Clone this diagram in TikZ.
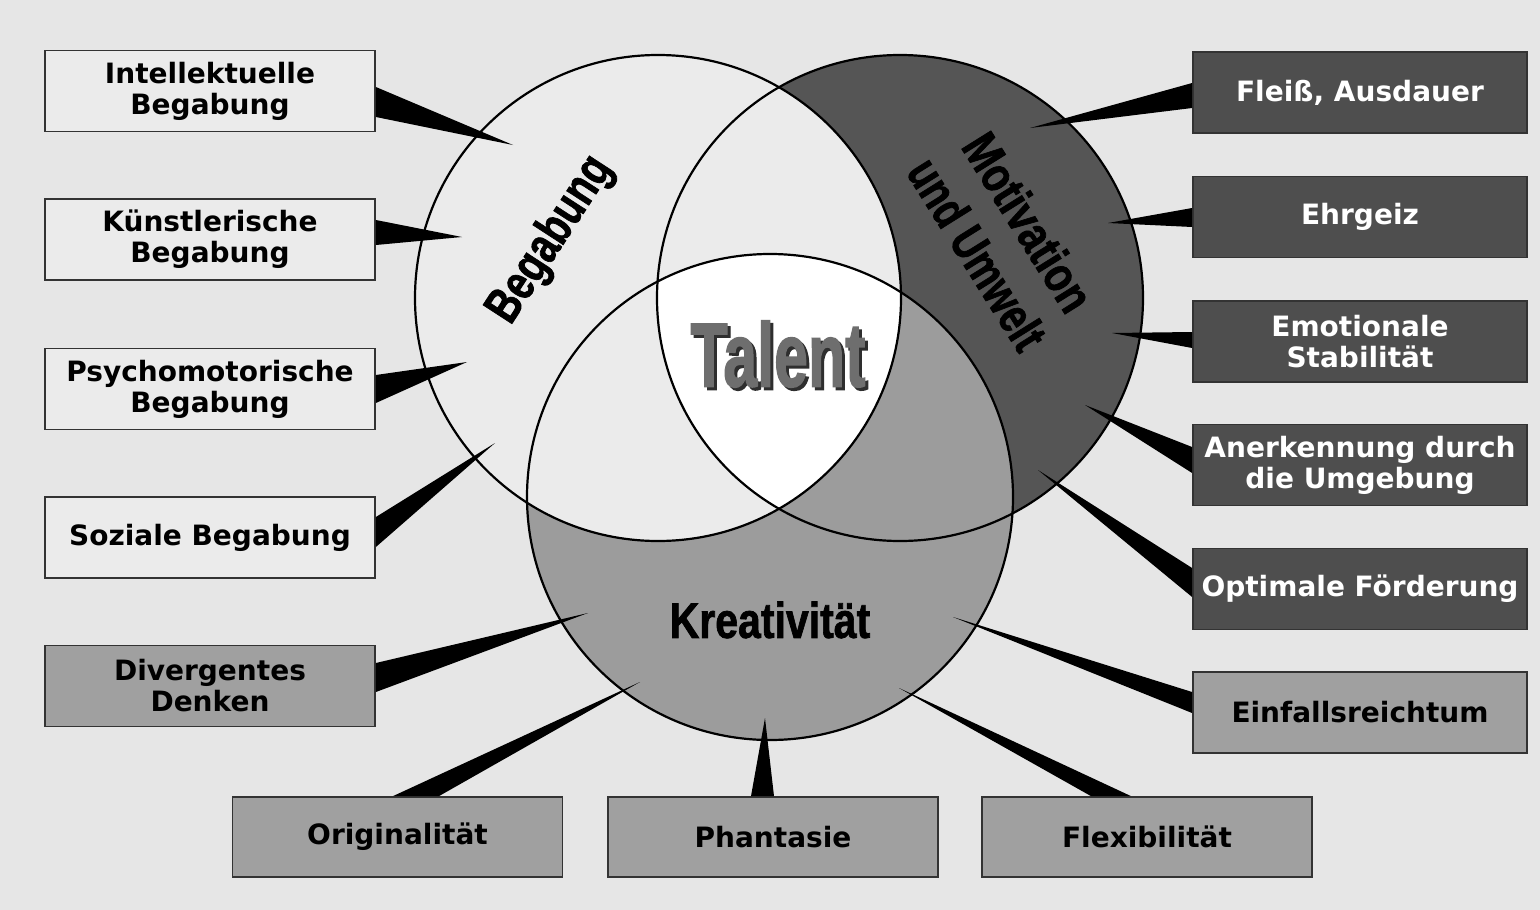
\documentclass[tikz,border=0pt]{standalone}
\usepackage{graphicx}
\usepackage{fontspec}
\setmainfont{DejaVu Sans}
\newfontfamily\condfont{Liberation Sans}[BoldFeatures={FakeBold=1.6}]
\usetikzlibrary{calc}
\definecolor{bgc}{HTML}{E6E6E6}
\definecolor{lightc}{HTML}{EBEBEB}
\definecolor{darkc}{HTML}{555555}
\definecolor{midc}{HTML}{9C9C9C}
\definecolor{boxdark}{HTML}{4E4E4E}
\definecolor{boxmid}{HTML}{A0A0A0}
\definecolor{edgec}{HTML}{333333}
\definecolor{talentc}{HTML}{6E6E6E}
\definecolor{shadowc}{HTML}{2E2E2E}
\newcommand\wedgeH[4]{\fill[wedgefill] ($(#1)+(0,#2-#3)$) -- (#4) -- ($(#1)+(0,#2+#3)$) -- cycle;}
\newcommand\wedgeV[4]{\fill[wedgefill] ($(#1)+(#2-#3,0)$) -- (#4) -- ($(#1)+(#2+#3,0)$) -- cycle;}
\begin{document}
\begin{tikzpicture}[x=1pt,y=-1pt,
  box/.style={rectangle, draw=edgec, line width=1.8pt, minimum width=330pt, minimum height=81pt, inner sep=0pt, align=center, font=\fontsize{28}{31}\selectfont\bfseries},
  lightbox/.style={box, fill=lightc, text=black},
  darkbox/.style={box, fill=boxdark, text=white, minimum width=334pt},
  midbox/.style={box, fill=boxmid, text=black},
  ring/.style={draw=black, line width=2.2pt},
  wedgefill/.style={fill=black},
  biglabel/.style={inner sep=0pt, align=center}]

\fill[bgc] (0,0) rectangle (1540,910);
\useasboundingbox (0,0) rectangle (1540,910);

% circle centres
\coordinate (cL) at (658,298);
\coordinate (cR) at (900,298);
\coordinate (cB) at (770,497);

% fills
\fill[darkc] (cR) circle (243);
\fill[midc] (cB) circle (243);
\fill[lightc] (cL) circle (243);
\begin{scope}
  \clip (cL) circle (243);
  \clip (cR) circle (243);
  \fill[white] (cB) circle (243);
\end{scope}
\draw[ring] (cL) circle (243);
\draw[ring] (cR) circle (243);
\draw[ring] (cB) circle (243);

% big labels
\node[biglabel, text=shadowc, font=\condfont\bfseries\fontsize{91}{91}\selectfont] at (781,357) {\scalebox{0.67}[1]{Talent}};
\node[biglabel, text=talentc, font=\condfont\bfseries\fontsize{91}{91}\selectfont] (talent) at (778,354) {\scalebox{0.67}[1]{Talent}};
\node[biglabel, font=\condfont\bfseries\fontsize{50}{50}\selectfont] (krea) at (770,620) {\scalebox{0.82}[1]{Kreativität}};
\node[biglabel, rotate=57, font=\condfont\bfseries\fontsize{50}{50}\selectfont] (beg) at (551,240) {\scalebox{0.77}[1]{Begabung}};
\node[biglabel, rotate=-58, font=\condfont\bfseries\fontsize{50}{60}\selectfont] (mot) at (1003,238) {\scalebox{0.8}[1]{Motivation}\\\scalebox{0.76}[1]{und Umwelt}};

% boxes left
\node[lightbox] (L1) at (210,91) {Intellektuelle\\Begabung};
\node[lightbox] (L2) at (210,239.5) {Künstlerische\\Begabung};
\node[lightbox] (L3) at (210,389) {Psychomotorische\\Begabung};
\node[lightbox] (L4) at (210,537.5) {Soziale Begabung};
\node[midbox] (L5) at (210,686) {Divergentes\\Denken};
% boxes right
\node[darkbox] (R1) at (1360,92.5) {Fleiß, Ausdauer};
\node[darkbox] (R2) at (1360,217) {Ehrgeiz};
\node[darkbox] (R3) at (1360,341.5) {Emotionale\\Stabilität};
\node[darkbox] (R4) at (1360,465) {Anerkennung durch\\die Umgebung};
\node[darkbox] (R5) at (1360,589) {Optimale Förderung};
\node[midbox, minimum width=334pt] (R6) at (1360,712.5) {Einfallsreichtum};
% boxes bottom
\node[midbox, minimum height=80pt] (B1) at (397.5,837) {Originalität};
\node[midbox, minimum height=80pt] (B2) at (773,837) {Phantasie};
\node[midbox, minimum height=80pt] (B3) at (1147,837) {Flexibilität};

% wedge tips
\coordinate (tL1) at (513,145);
\coordinate (tL2) at (462,237);
\coordinate (tL3) at (467,362);
\coordinate (tL4) at (495,443);
\coordinate (tL5) at (588,613);
\coordinate (tR1) at (1030,128);
\coordinate (tR2) at (1108,223);
\coordinate (tR3) at (1112,333);
\coordinate (tR4) at (1085,405);
\coordinate (tR5) at (1038,470);
\coordinate (tR6) at (953,617);
\coordinate (tB1) at (640,682);
\coordinate (tB2) at (765,718);
\coordinate (tB3) at (899,688);

% wedges
\wedgeH{L1.east}{11}{15}{tL1}
\wedgeH{L2.east}{-7}{12.5}{tL2}
\wedgeH{L3.east}{0}{14}{tL3}
\wedgeH{L4.east}{-5.5}{15}{tL4}
\wedgeH{L5.east}{-8.5}{14.5}{tL5}
\wedgeH{R1.west}{3}{12.5}{tR1}
\wedgeH{R2.west}{0.5}{9.5}{tR2}
\wedgeH{R3.west}{-1.5}{8}{tR3}
\wedgeH{R4.west}{-5}{13}{tR4}
\wedgeH{R5.west}{-6.5}{14.5}{tR5}
\wedgeH{R6.west}{-10}{10.5}{tR6}
\wedgeV{B1.north}{18.5}{23}{tB1}
\wedgeV{B2.north}{-10.5}{11.5}{tB2}
\wedgeV{B3.north}{-36}{20}{tB3}
\end{tikzpicture}
\end{document}
